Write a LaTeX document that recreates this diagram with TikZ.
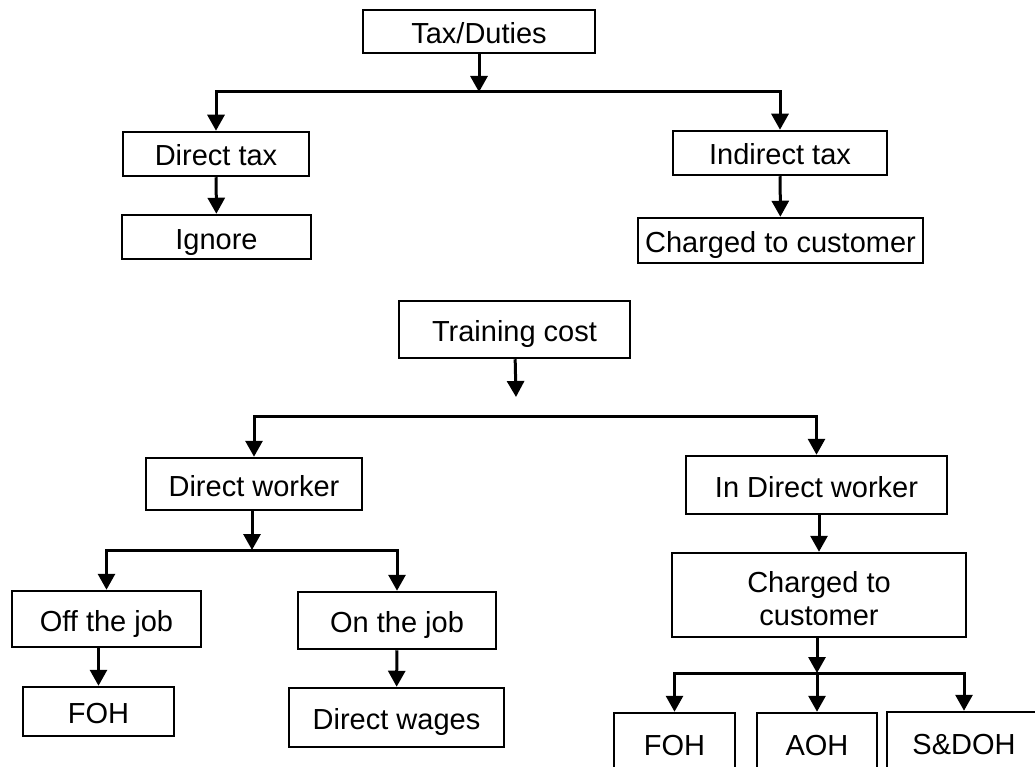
\documentclass[tikz,border=0pt]{standalone}
\usepackage{fontspec}
\setmainfont{Liberation Sans}
\usetikzlibrary{arrows.meta}
\begin{document}
\begin{tikzpicture}[x=1pt,y=-1pt,
  box/.style={draw,line width=2.5pt,rectangle,inner sep=0pt,font=\fontsize{29}{33}\selectfont},
  one/.style={text height=24pt,text depth=0pt},
  arr/.style={line width=3pt,-{Triangle[width=17pt,length=16pt]}},
  ln/.style={line width=3pt}]
\useasboundingbox (0,0) rectangle (1035,767);
\clip (0,0) rectangle (1035,767);
\fill[white] (0,0) rectangle (1035,767);
% top tree
\node[box,one,minimum width=232pt,minimum height=43pt] (tax) at (479,31.5) {Tax/Duties};
\node[box,one,minimum width=186pt,minimum height=44pt] (dtax) at (216,154) {Direct tax};
\node[box,one,minimum width=189pt,minimum height=44pt] (ign) at (216.5,237) {Ignore};
\node[box,one,minimum width=214pt,minimum height=44pt] (itax) at (780,153) {Indirect tax};
\node[box,one,minimum width=285pt,minimum height=45pt] (chg1) at (780.5,240.5) {Charged to customer};
\coordinate (j1) at (479,92);
\draw[arr] (tax) -- (j1);
\draw[arr] (j1) -| (dtax);
\draw[arr] (j1) -| (itax);
\draw[arr] (dtax) -- (ign);
\draw[arr] (itax) -- (chg1);
% training tree
\node[box,one,minimum width=231pt,minimum height=57pt] (train) at (514.5,329.5) {Training cost};
\node[box,one,minimum width=216pt,minimum height=52pt] (dw) at (254,484) {Direct worker};
\node[box,one,minimum width=261pt,minimum height=58pt] (idw) at (816.5,485) {In Direct worker};
\node[box,align=center,text height=62pt,minimum width=294pt,minimum height=84pt] (chg2) at (819,595) {Charged to\\customer};
\node[box,one,minimum width=189pt,minimum height=56pt] (off) at (106.5,619) {Off the job};
\node[box,one,minimum width=198pt,minimum height=57pt] (on) at (397,620.5) {On the job};
\node[box,one,minimum width=151pt,minimum height=49pt] (foha) at (98.5,711.5) {FOH};
\node[box,one,minimum width=215pt,minimum height=59pt] (dwg) at (396.5,717.5) {Direct wages};
\node[box,one,minimum width=121pt,minimum height=60pt] (fohb) at (674.5,743) {FOH};
\node[box,one,minimum width=120pt,minimum height=60pt] (aoh) at (817,743) {AOH};
\node[box,one,minimum width=154pt,minimum height=60pt] (sdoh) at (964,742) {S\&DOH};
\coordinate (t1) at (516,397);
\coordinate (j2) at (516,416);
\draw[arr] (train) -- (t1);
\draw[ln] (j2) -- (dw.north |- j2);
\draw[arr] (j2) -| (dw);
\draw[arr] (j2) -| (idw);
\coordinate (j3) at (252,550);
\draw[arr] (dw.south -| j3) -- (j3);
\draw[arr] (j3) -| (off);
\draw[arr] (j3) -| (on);
\draw[arr] (foha |- off.south) -- (foha);
\draw[arr] (on) -- (dwg);
\draw[arr] (idw.south -| chg2) -- (chg2);
\coordinate (j4) at (817,673);
\draw[arr] (chg2.south -| j4) -- (j4);
\draw[arr] (j4) -- (aoh);
\draw[arr] (j4) -| (fohb);
\draw[arr] (j4) -| (sdoh);
\end{tikzpicture}
\end{document}
